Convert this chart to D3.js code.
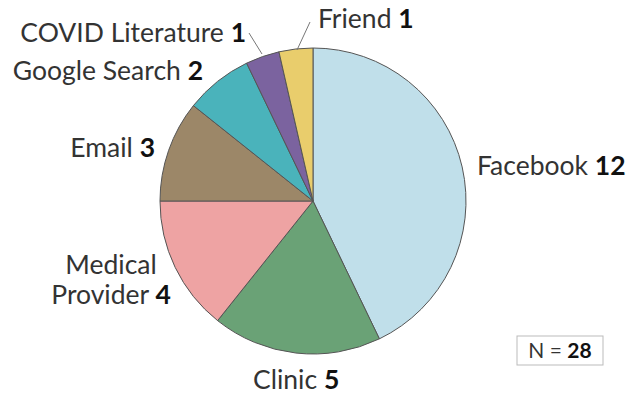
<!DOCTYPE html>
<html><head><meta charset="utf-8">
<script src="https://cdn.jsdelivr.net/npm/d3@7"></script>
<style>body{margin:0;background:#fff}svg{display:block}text{font-family:Lato,"Noto Sans",sans-serif;fill:#333}.b{font-weight:bold;fill:#111}</style>
</head><body><svg id="c" width="635" height="397"></svg>
<script>
const categories = ["Facebook","Clinic","Medical Provider","Email","Google Search","COVID Literature","Friend"];
const values = [12,5,4,3,2,1,1];
const colors = ["#c0dfea","#6aa276","#eea3a3","#9c8768","#4ab3bb","#7b639f","#e9cd6c"];

// label layout: x, baseline y, anchor
const labelLayout = [
  {x:477,y:175,a:"start"},
  {x:253,y:389,a:"start"},
  {x:111,y:274,a:"middle",split:true},
  {x:155,y:157,a:"end"},
  {x:203,y:80,a:"end"},
  {x:246,y:42,a:"end",leader:[[249,33],[262,54]]},
  {x:318,y:28,a:"start",leader:[[310,22],[297,50]]}
];

const svg = d3.select("#c");
const cx=313, cy=201, R=153;
const g = svg.append("g").attr("transform",`translate(${cx},${cy})`);
const pie = d3.pie().sort(null).value(d=>d);
const arc = d3.arc().innerRadius(0).outerRadius(R);
g.selectAll("path").data(pie(values)).join("path")
  .attr("d",arc).attr("fill",(d,i)=>colors[i])
  .attr("stroke","#555").attr("stroke-width",1);

const FS = 26.5;
categories.forEach((c,i)=>{
  const L = labelLayout[i];
  if(L.leader){
    svg.append("line").attr("x1",L.leader[0][0]).attr("y1",L.leader[0][1])
      .attr("x2",L.leader[1][0]).attr("y2",L.leader[1][1]).attr("stroke","#777").attr("stroke-width",1);
  }
  if(L.split){
    const parts = c.split(" ");
    svg.append("text").attr("x",L.x).attr("y",L.y).attr("text-anchor",L.a).style("font-size",FS+"px").text(parts[0]);
    const t2 = svg.append("text").attr("x",L.x).attr("y",L.y+30).attr("text-anchor",L.a).style("font-size",FS+"px");
    t2.append("tspan").text(parts[1]+" ");
    t2.append("tspan").attr("class","b").text(values[i]);
  } else {
    const t = svg.append("text").attr("x",L.x).attr("y",L.y).attr("text-anchor",L.a).style("font-size",FS+"px");
    t.append("tspan").text(c+" ");
    t.append("tspan").attr("class","b").text(values[i]);
  }
});

svg.append("rect").attr("x",517).attr("y",336).attr("width",86).attr("height",29)
  .attr("fill","#fff").attr("stroke","#bbb").attr("stroke-width",1);
const nt = svg.append("text").attr("x",560).attr("y",358).attr("text-anchor","middle").style("font-size","21px");
nt.append("tspan").text("N = ");
nt.append("tspan").attr("class","b").text(d3.sum(values));
</script></body></html>
